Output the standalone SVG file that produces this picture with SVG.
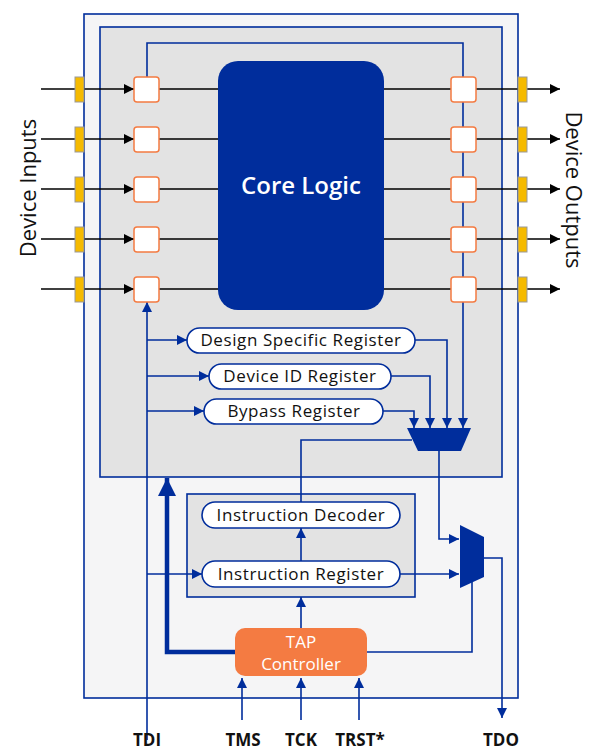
<svg xmlns="http://www.w3.org/2000/svg" width="600" height="756" viewBox="0 0 600 756">
<defs>
<marker id="ab" viewBox="0 0 10 10" refX="10" refY="5" markerWidth="10" markerHeight="10" markerUnits="userSpaceOnUse" orient="auto"><path d="M0,0L10,5L0,10z" fill="#002D9C"/></marker>
<marker id="ak" viewBox="0 0 10 10" refX="10" refY="5" markerWidth="10" markerHeight="10" markerUnits="userSpaceOnUse" orient="auto"><path d="M0,0L10,5L0,10z" fill="#000"/></marker>
<marker id="at" viewBox="0 0 10 10" refX="10" refY="5" markerWidth="4" markerHeight="4" orient="auto"><path d="M0,0L10,5L0,10z" fill="#002D9C"/></marker>
</defs>
<style>
text{font-family:"Open Sans","Liberation Sans",sans-serif}
.b{fill:none;stroke:#002D9C;stroke-width:1.6}
.k{fill:none;stroke:#000;stroke-width:1.6}
.cell{fill:#fff;stroke:#F47B42;stroke-width:1.5}
.pad{fill:#F5BA00;stroke:#999;stroke-width:1}
.pill{fill:#fff;stroke:#002D9C;stroke-width:1.6}
.pt{font-size:17px;letter-spacing:0.6px;fill:#111;text-anchor:middle}
.lbl{font-size:17px;font-weight:bold;fill:#111;text-anchor:middle}
</style>
<rect x="0" y="0" width="600" height="756" fill="#fff"/>
<g id="outer"><rect x="84" y="14" width="434" height="684" fill="#F5F5F6" stroke="#002D9C" stroke-width="1.6"/></g>
<g id="inner"><rect x="100" y="27" width="402" height="450" fill="#E3E3E3" stroke="#002D9C" stroke-width="1.6"/></g>
<g id="instrbox"><rect x="187" y="494" width="228" height="103" fill="#E3E3E3" stroke="#002D9C" stroke-width="1.6"/></g>
<g id="connectors">
<path class="b" d="M147,89V43H463V289"/>
<path class="b" d="M147,740V302" marker-end="url(#ab)"/>
<g class="k">
<path d="M41,89H134" marker-end="url(#ak)"/><path d="M41,139H134" marker-end="url(#ak)"/><path d="M41,189H134" marker-end="url(#ak)"/><path d="M41,239H134" marker-end="url(#ak)"/><path d="M41,289H134" marker-end="url(#ak)"/>
<path d="M159,89H218M159,139H218M159,189H218M159,239H218M159,289H218"/>
<path d="M384,89H451M384,139H451M384,189H451M384,239H451M384,289H451"/>
<path d="M475,89H560" marker-end="url(#ak)"/><path d="M475,139H560" marker-end="url(#ak)"/><path d="M475,189H560" marker-end="url(#ak)"/><path d="M475,239H560" marker-end="url(#ak)"/><path d="M475,289H560" marker-end="url(#ak)"/>
</g>
<path class="b" d="M147,340H187" marker-end="url(#ab)"/>
<path class="b" d="M147,376H209" marker-end="url(#ab)"/>
<path class="b" d="M147,411H204" marker-end="url(#ab)"/>
<path class="b" d="M463,302V428" marker-end="url(#ab)"/>
<path class="b" d="M415,340H447V428" marker-end="url(#ab)"/>
<path class="b" d="M391,376H430V428" marker-end="url(#ab)"/>
<path class="b" d="M383,411H414V428" marker-end="url(#ab)"/>
<path class="b" d="M412,440H301V502"/>
<path class="b" d="M439,451V539H459" marker-end="url(#ab)"/>
<path class="b" d="M301,561V528" marker-end="url(#ab)"/>
<path class="b" d="M147,574H202" marker-end="url(#ab)"/>
<path class="b" d="M400,574H459" marker-end="url(#ab)"/>
<path class="b" d="M301,628V597" marker-end="url(#ab)"/>
<path d="M235,652H167V478" fill="none" stroke="#002D9C" stroke-width="4.5" marker-end="url(#at)"/>
<path class="b" d="M367,652H472V582"/>
<path class="b" d="M484,558H502V718" marker-end="url(#ab)"/>
<path class="b" d="M242,720V678" marker-end="url(#ab)"/>
<path class="b" d="M301,720V678" marker-end="url(#ab)"/>
<path class="b" d="M359,720V678" marker-end="url(#ab)"/>
</g>
<g id="pads">
<rect class="pad" x="75" y="77" width="9" height="25"/><rect class="pad" x="75" y="127" width="9" height="25"/><rect class="pad" x="75" y="177" width="9" height="25"/><rect class="pad" x="75" y="227" width="9" height="25"/><rect class="pad" x="75" y="277" width="9" height="25"/>
<rect class="pad" x="518" y="77" width="9" height="25"/><rect class="pad" x="518" y="127" width="9" height="25"/><rect class="pad" x="518" y="177" width="9" height="25"/><rect class="pad" x="518" y="227" width="9" height="25"/><rect class="pad" x="518" y="277" width="9" height="25"/>
</g>
<g id="cells">
<rect class="cell" x="134" y="77" width="25" height="25" rx="3"/><rect class="cell" x="134" y="127" width="25" height="25" rx="3"/><rect class="cell" x="134" y="177" width="25" height="25" rx="3"/><rect class="cell" x="134" y="227" width="25" height="25" rx="3"/><rect class="cell" x="134" y="277" width="25" height="25" rx="3"/>
<rect class="cell" x="451" y="77" width="25" height="25" rx="3"/><rect class="cell" x="451" y="127" width="25" height="25" rx="3"/><rect class="cell" x="451" y="177" width="25" height="25" rx="3"/><rect class="cell" x="451" y="227" width="25" height="25" rx="3"/><rect class="cell" x="451" y="277" width="25" height="25" rx="3"/>
</g>
<g id="core"><rect x="218" y="61" width="166" height="249" rx="20" fill="#002D9C"/><text x="301" y="194" font-size="24" font-weight="600" fill="#fff" text-anchor="middle">Core Logic</text></g>
<g id="dsr"><rect class="pill" x="187" y="328" width="228" height="25" rx="12.5"/><text class="pt" x="301" y="346">Design Specific Register</text></g>
<g id="did"><rect class="pill" x="209" y="364" width="182" height="25" rx="12.5"/><text class="pt" x="300" y="382">Device ID Register</text></g>
<g id="byp"><rect class="pill" x="204" y="399" width="179" height="25" rx="12.5"/><text class="pt" x="294" y="417">Bypass Register</text></g>
<g id="mux1"><path d="M407,428H471L461,451H418Z" fill="#002D9C"/></g>
<g id="mux2"><path d="M460,525L484,537V577L460,588Z" fill="#002D9C"/></g>
<g id="idec"><rect class="pill" x="202" y="502" width="198" height="26" rx="13" /><text class="pt" x="301" y="521">Instruction Decoder</text></g>
<g id="ireg"><rect class="pill" x="202" y="561" width="198" height="26" rx="13"/><text class="pt" x="301" y="580">Instruction Register</text></g>
<g id="tap"><rect x="235" y="628" width="132" height="48" rx="10" fill="#F47B42"/><text x="301" y="648" font-size="17" fill="#fff" text-anchor="middle">TAP</text><text x="301" y="670" font-size="17" fill="#fff" text-anchor="middle">Controller</text></g>
<g id="labels">
<text class="lbl" x="147" y="746">TDI</text><text class="lbl" x="243" y="746">TMS</text><text class="lbl" x="301" y="746">TCK</text><text class="lbl" x="360" y="746">TRST*</text><text class="lbl" x="501" y="746">TDO</text>
<text x="28" y="188" font-size="22" fill="#111" text-anchor="middle" transform="rotate(-90 28 188)" dy="8">Device Inputs</text>
<text x="574" y="190" font-size="22" fill="#111" text-anchor="middle" transform="rotate(90 574 190)" dy="8">Device Outputs</text>
</g>
</svg>
